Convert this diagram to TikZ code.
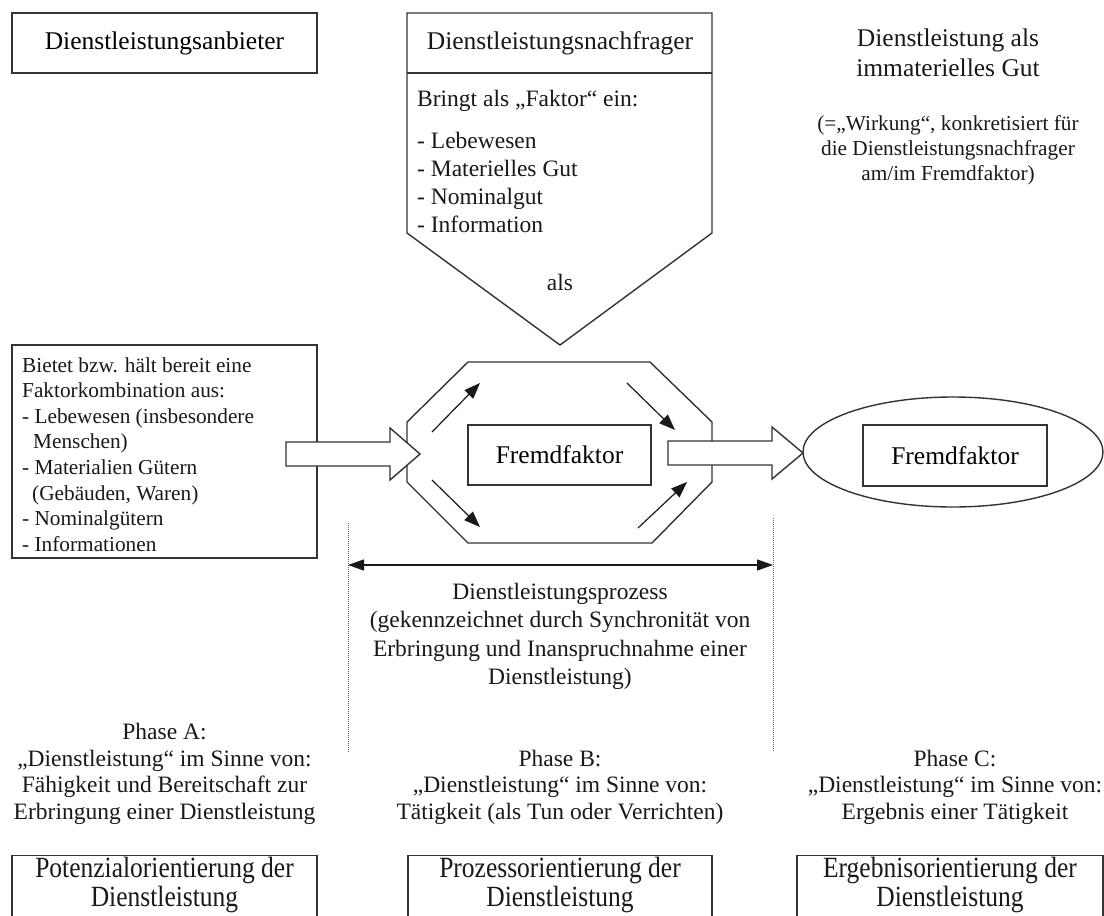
\documentclass[tikz,border=0pt]{standalone}
\usepackage{fontspec}
\usepackage{graphicx}
\setmainfont{Liberation Serif}
\usetikzlibrary{arrows.meta,shapes.geometric}

\begin{document}
\begin{tikzpicture}[x=1pt,y=-1pt,
  outline/.style={draw=black!80, line width=1.4pt},
  box/.style={outline, fill=white, inner sep=0pt},
  big/.style={font=\fontsize{25.5}{30}\selectfont},
  mid/.style={font=\fontsize{23.5}{28}\selectfont},
  small/.style={font=\fontsize{21.3}{25.6}\selectfont},
  txt/.style={inner sep=0pt, text=black!90},
  flow/.style={-{Triangle[length=16pt,width=12pt]}, line width=1.2pt, draw=black!90},
  span/.style={{Triangle[length=16pt,width=11pt]}-{Triangle[length=16pt,width=11pt]}, line width=1.2pt, draw=black!90},
  guide/.style={draw=black!60, line width=1pt, densely dotted},
  blockarrow/.style={outline, fill=white}
]
\path[use as bounding box] (0,0) rectangle (1104,916);
\clip (0,0) rectangle (1104,916);

% ---------- top row ----------
\node[box, big, minimum width=305pt, minimum height=60pt] (anb) at (164.5,43) {Dienstleistungsanbieter};

% customer block: header and pointed body
\draw[outline, fill=white] (407,13) -- (712,13) -- (712,233) -- (560,345) -- (407,233) -- cycle;
\draw[outline] (407,73) -- (712,73);
\node[txt, big] (nach) at (560,43) {Dienstleistungsnachfrager};
\node[txt, mid, anchor=west, align=left] (nachlist) at (417,161)
  {Bringt als „Faktor“ ein:\\[14pt]
   - Lebewesen\\
   - Materielles Gut\\
   - Nominalgut\\
   - Information};
\node[txt, mid] (als) at (560,282) {als};

% intangible good
\node[txt, big, align=center] (gut) at (948,53) {Dienstleistung als\\immaterielles Gut};
\node[txt, small, align=center, font=\fontsize{21.3}{25}\selectfont] (wirk) at (948,150)
  {(=„Wirkung“, konkretisiert für\\die Dienstleistungsnachfrager\\am/im Fremdfaktor)};

% ---------- middle row ----------
\node[box, minimum width=305pt, minimum height=213pt] (angebot) at (164.5,451.5) {};
\node[txt, small, anchor=west, align=left] (angebottext) at (22,454.5)
  {Bietet bzw. hält bereit eine\\
   Faktorkombination aus:\\
   - Lebewesen (insbesondere\\
   \hspace*{11pt}Menschen)\\
   - Materialien Gütern\\
   \hspace*{10pt}(Gebäuden, Waren)\\
   - Nominalgütern\\
   - Informationen};

% process octagon
\draw[outline, fill=white] (407,422) -- (468,362) -- (650,362) -- (712,422)
  -- (712,482) -- (652,543) -- (468,543) -- (407,482) -- cycle;

% block arrows into and out of the process
\draw[blockarrow] (286,442) -- (390,442) -- (390,428) -- (420,454) -- (390,480)
  -- (390,466) -- (286,466) -- cycle;
\draw[blockarrow] (668,441) -- (772,441) -- (772,427) -- (803,453) -- (772,479)
  -- (772,465) -- (668,465) -- cycle;

\node[box, big, minimum width=183pt, minimum height=60pt] (ff1) at (559.5,455) {Fremdfaktor};

% circulation arrows inside the octagon
\coordinate (c1a) at (432,432); \coordinate (c1b) at (480,383);
\coordinate (c2a) at (627,383); \coordinate (c2b) at (675,430);
\coordinate (c3a) at (432,480); \coordinate (c3b) at (480,527);
\coordinate (c4a) at (638,528); \coordinate (c4b) at (687,482);
\draw[flow] (c1a) -- (c1b);
\draw[flow] (c2a) -- (c2b);
\draw[flow] (c3a) -- (c3b);
\draw[flow] (c4a) -- (c4b);

% result
\node[ellipse, outline, minimum width=300pt, minimum height=110pt, inner sep=0pt] (erg) at (953,452) {};
\node[box, big, minimum width=184pt, minimum height=61pt] (ff2) at (955,455.5) {Fremdfaktor};

% ---------- process span ----------
\coordinate (gl1) at (348,523); \coordinate (gl2) at (348,752);
\coordinate (gr1) at (773,518); \coordinate (gr2) at (773,752);
\draw[guide] (gl1) -- (gl2);
\draw[guide] (gr1) -- (gr2);
\coordinate (sl) at (348,565); \coordinate (sr) at (773,565);
\draw[span] (sl) -- (sr);

\node[txt, mid, align=center, font=\fontsize{23.5}{28.3}\selectfont] (proz) at (560,636.5)
  {Dienstleistungsprozess\\
   (gekennzeichnet durch Synchronität von\\
   Erbringung und Inanspruchnahme einer\\
   Dienstleistung)};

% ---------- phases ----------
\node[txt, align=center, font=\fontsize{23.5}{26.5}\selectfont] (phA) at (164.5,774)
  {Phase A:\\
   „Dienstleistung“ im Sinne von:\\
   Fähigkeit und Bereitschaft zur\\
   Erbringung einer Dienstleistung};
\node[txt, align=center, font=\fontsize{23.5}{26.5}\selectfont] (phB) at (560,787)
  {Phase B:\\
   „Dienstleistung“ im Sinne von:\\
   Tätigkeit (als Tun oder Verrichten)};
\node[txt, align=center, font=\fontsize{23.5}{26.5}\selectfont] (phC) at (955,787)
  {Phase C:\\
   „Dienstleistung“ im Sinne von:\\
   Ergebnis einer Tätigkeit};

% ---------- orientation boxes ----------
\node[box, minimum width=305pt, minimum height=100pt, anchor=north] (orA) at (164.5,855) {};
\node[box, minimum width=304pt, minimum height=100pt, anchor=north] (orB) at (560,855) {};
\node[box, minimum width=306pt, minimum height=100pt, anchor=north] (orC) at (950,855) {};
\node[txt] (orAt) at (164.5,886) {\fontsize{25.5}{24}\selectfont\scalebox{1}[1.15]{\begin{tabular}{@{}c@{}}Potenzialorientierung der\\Dienstleistung\end{tabular}}};
\node[txt] (orBt) at (560,886) {\fontsize{25.5}{24}\selectfont\scalebox{1}[1.15]{\begin{tabular}{@{}c@{}}Prozessorientierung der\\Dienstleistung\end{tabular}}};
\node[txt] (orCt) at (950,886) {\fontsize{25.5}{24}\selectfont\scalebox{1}[1.15]{\begin{tabular}{@{}c@{}}Ergebnisorientierung der\\Dienstleistung\end{tabular}}};
\end{tikzpicture}
\end{document}
